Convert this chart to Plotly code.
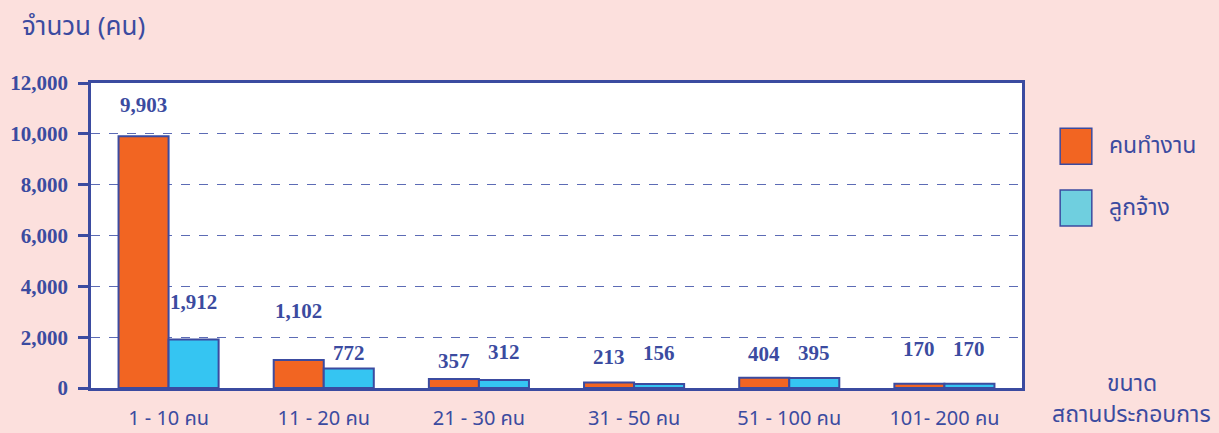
import plotly.graph_objects as go

categories = ["1 - 10 คน", "11 - 20 คน", "21 - 30 คน", "31 - 50 คน", "51 - 100 คน", "101- 200 คน"]
workers = [9903, 1102, 357, 213, 404, 170]
employees = [1912, 772, 312, 156, 395, 170]
series_names = ["คนทำงาน", "ลูกจ้าง"]
y_ticks = [0, 2000, 4000, 6000, 8000, 10000, 12000]
y_title = "จำนวน (คน)"
x_title_lines = ["ขนาด", "สถานประกอบการ"]

# label vertical offsets (px above bar top)
workers_label_shift = [31, 49, 18, 26, 24, 35]
employees_label_shift = [37, 15, 28, 31, 25, 35]

BLUE = "#3B4BA0"
ORANGE = "#F26522"
CYAN = "#35C5F2"
CYAN_LEG = "#6FCFDF"
BG = "#FCE0DD"
THAI = "Noto Sans Thai, Tahoma, Noto Sans, sans-serif"

fig = go.Figure()
fig.add_trace(go.Bar(x=categories, y=workers, name=series_names[0],
                     marker=dict(color=ORANGE, line=dict(color=BLUE, width=2)), showlegend=False))
fig.add_trace(go.Bar(x=categories, y=employees, name=series_names[1],
                     marker=dict(color=CYAN, line=dict(color=BLUE, width=2)), showlegend=False))

label_font = dict(family="Liberation Serif", size=21, color=BLUE)
for i, c in enumerate(categories):
    fig.add_annotation(x=c, y=workers[i], xref="x", yref="y", text="<b>{:,}</b>".format(workers[i]),
                       showarrow=False, xshift=-25, yshift=workers_label_shift[i], font=label_font)
    fig.add_annotation(x=c, y=employees[i], xref="x", yref="y", text="<b>{:,}</b>".format(employees[i]),
                       showarrow=False, xshift=25, yshift=employees_label_shift[i], font=label_font)

fig.update_layout(
    width=1219, height=433,
    margin=dict(l=91, r=197, t=83, b=45, autoexpand=False),
    paper_bgcolor=BG, plot_bgcolor="white",
    barmode="group", bargap=0.355, bargroupgap=0,
    showlegend=False,
)

fig.add_annotation(x=-0.076, y=1.184, xref="paper", yref="paper", xanchor="left", yanchor="middle",
                   text=y_title, showarrow=False, font=dict(family=THAI, size=26, color=BLUE))
for txt, yy in zip(x_title_lines, [0.012, -0.088]):
    fig.add_annotation(x=1.118, y=yy, xref="paper", yref="paper", xanchor="center", yanchor="middle",
                       text=txt, showarrow=False, font=dict(family=THAI, size=23, color=BLUE))

# custom legend
leg = [(series_names[0], ORANGE, 0.793), (series_names[1], CYAN_LEG, 0.590)]
for name, col, yc in leg:
    fig.add_shape(type="rect", xref="paper", yref="paper", x0=1.041, x1=1.075, y0=yc - 0.059, y1=yc + 0.059,
                  fillcolor=col, line=dict(color=BLUE, width=1.5))
    fig.add_annotation(x=1.091, y=yc, xref="paper", yref="paper", xanchor="left", yanchor="middle",
                       text=name, showarrow=False, font=dict(family=THAI, size=23, color=BLUE))

fig.update_xaxes(showline=True, linecolor=BLUE, linewidth=2.5, mirror=True, ticks="", automargin=False,
                 tickfont=dict(family=THAI, size=20, color=BLUE), ticklabelstandoff=10)
fig.update_yaxes(range=[0, 12000], tickvals=y_ticks, tickformat=",", showline=True, linecolor=BLUE, linewidth=2.5,
                 mirror=True, ticks="outside", ticklen=10, tickcolor=BLUE, tickwidth=2.5, automargin=False,
                 showgrid=True, gridcolor="#5C6BB5", griddash="dash", gridwidth=1,
                 tickfont=dict(family="Liberation Serif", size=21, color=BLUE, weight="bold"),
                 ticklabelstandoff=6, zeroline=False)

fig.write_html("out.html", config={"displayModeBar": False},
               post_script="document.body.style.margin='0';document.body.style.padding='0';")
